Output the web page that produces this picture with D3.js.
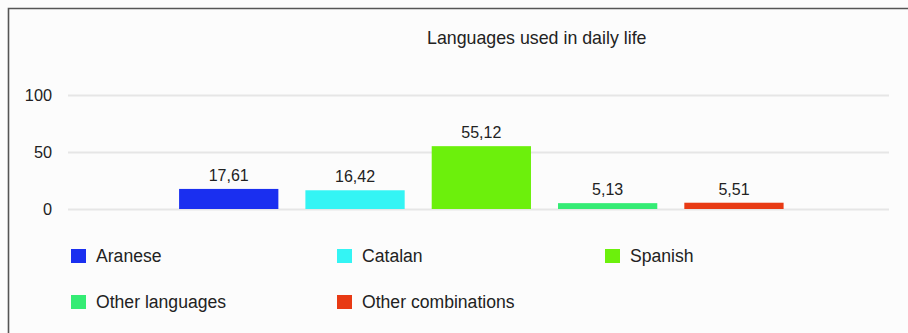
<!DOCTYPE html>
<html>
<head>
<meta charset="utf-8">
<script src="https://cdn.jsdelivr.net/npm/d3@7"></script>
<style>
  html, body { margin: 0; padding: 0; background: #fcfcfc; }
  svg { display: block; font-family: "Liberation Sans", Arial, sans-serif; }
</style>
</head>
<body>
<svg id="chart" width="908" height="333"></svg>
<script>
// Chart data
const chartTitle = "Languages used in daily life";
const categories = ["Languages used in daily life"];
const seriesNames = ["Aranese", "Catalan", "Spanish", "Other languages", "Other combinations"];
const seriesValues = [17.61, 16.42, 55.12, 5.13, 5.51];
const seriesColors = ["#1a2ff0", "#34f4f4", "#6cf00c", "#34ec74", "#e83a14"];
const yTicks = [0, 50, 100];

const svg = d3.select("#chart");
const W = 908, H = 333;

// Frame (open on the right and bottom)
svg.append("rect").attr("x", 0).attr("y", 0).attr("width", W).attr("height", H).attr("fill", "#fcfcfc");
svg.append("path")
  .attr("d", `M8.5,${H}V8.5H${W}`)
  .attr("fill", "none").attr("stroke", "#555").attr("stroke-width", 1.6);

// Title
svg.append("text")
  .attr("x", 427).attr("y", 44)
  .attr("font-size", 17.8).attr("fill", "#222")
  .text(chartTitle);

const plot = { left: 68, right: 889, top: 95, bottom: 209 };

const y = d3.scaleLinear().domain([0, 100]).range([plot.bottom, plot.top]);

// Outer band for the single category, inner band for series
const x0 = d3.scaleBand().domain(categories)
  .range([plot.left, plot.right]).paddingOuter(0.15).paddingInner(0).align(0.515);
const x1 = d3.scaleBand().domain(seriesNames)
  .range([0, x0.bandwidth()]).paddingInner(0.214).paddingOuter(0.107);

// Gridlines and y labels
const yAxis = d3.axisLeft(y).tickValues(yTicks).tickSize(-(plot.right - plot.left)).tickPadding(16);
const gy = svg.append("g").attr("transform", `translate(${plot.left},0)`).call(yAxis);
gy.select(".domain").remove();
gy.selectAll(".tick line").attr("stroke", "#e6e6e6").attr("stroke-width", 2);
gy.selectAll(".tick text")
  .attr("font-size", 16.3).attr("fill", "#222")
  .attr("font-family", "Liberation Sans, Arial, sans-serif");

// Bars
const data = seriesNames.map((name, i) => ({ name, value: seriesValues[i], color: seriesColors[i] }));
const g = svg.append("g").attr("transform", `translate(${x0(categories[0])},0)`);

g.selectAll("rect.bar").data(data).join("rect")
  .attr("class", "bar")
  .attr("x", d => x1(d.name))
  .attr("y", d => y(d.value))
  .attr("width", x1.bandwidth())
  .attr("height", d => y(0) - y(d.value))
  .attr("fill", d => d.color);

// Value labels
const fmt = v => v.toFixed(2).replace(".", ",");
g.selectAll("text.val").data(data).join("text")
  .attr("class", "val")
  .attr("x", d => x1(d.name) + x1.bandwidth() / 2)
  .attr("y", d => y(d.value) - 8)
  .attr("text-anchor", "middle")
  .attr("font-size", 16).attr("fill", "#222")
  .text(d => fmt(d.value));

// Legend: three columns, two rows
const legendCols = [71, 337, 605];
const legendRows = [256, 302];
const lg = svg.append("g").selectAll("g").data(data).join("g")
  .attr("transform", (d, i) => `translate(${legendCols[i % 3]},${legendRows[Math.floor(i / 3)]})`);
lg.append("rect")
  .attr("x", 0).attr("y", -7).attr("width", 15).attr("height", 14)
  .attr("fill", d => d.color);
lg.append("text")
  .attr("x", 25).attr("y", 6)
  .attr("font-size", 17.6).attr("fill", "#222")
  .text(d => d.name);
</script>
</body>
</html>
